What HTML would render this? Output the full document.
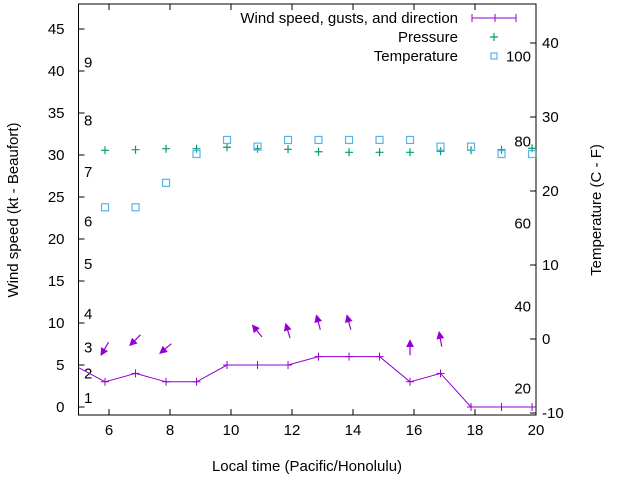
<!DOCTYPE html>
<html><head><meta charset="utf-8"><style>
body{margin:0;background:#fff;}
svg{display:block;font-family:"Liberation Sans",sans-serif;font-size:15px;}
</style></head><body>
<svg id="chart" width="640" height="480" xmlns="http://www.w3.org/2000/svg"></svg>
<script>
const times=[5.87,6.87,7.87,8.87,9.87,10.87,11.87,12.87,13.87,14.87,15.87,16.87,17.87,18.87,19.87];
const windSpeed=[3,4,3,3,5,5,5,6,6,6,3,4,0,0,0];
const windStart=[4.9,4.7];
const windDir=[30,45,50,null,null,141,163,165,165,null,180,170,null,null,null];
const pressure=[30.56,30.63,30.75,30.75,30.92,30.75,30.68,30.39,30.32,30.32,30.32,30.44,30.56,30.63,30.8];
const temperature=[17.8,17.8,21.1,25,26.9,26,26.9,26.9,26.9,26.9,26.9,26,26,25,25];
const xTicks=[6,8,10,12,14,16,18,20];
const yTicks=[0,5,10,15,20,25,30,35,40,45];
const y2Ticks=[-10,0,10,20,30,40];
const beaufort=[[1,1.1],[2,4],[3,7.1],[4,11.1],[5,17],[6,22.1],[7,28],[8,34.1],[9,41]];
const fahrenheit=[[20,-6.7],[40,4.4],[60,15.6],[80,26.7],[100,38.2]];
</script>
<script>
const svg=document.getElementById('chart');const NS='http://www.w3.org/2000/svg';
const L=78.5,R=536,T=4,B=415;
const X=v=>L+(v-5)/15*(R-L);
const Y=v=>407-v*8.4;
const Y2=v=>339-v*7.4;
function mk(tag,a,p){const e=document.createElementNS(NS,tag);for(const k in a)e.setAttribute(k,a[k]);(p||svg).appendChild(e);return e;}
function txt(x,y,s,anchor,name,extra){const e=mk('text',Object.assign({x:x,y:y,'text-anchor':anchor||'start',fill:'#000'},extra||{}));e.textContent=s;


return e;}
const arrowG=mk('g',{});


mk('defs',{}).innerHTML='<marker id="ah" markerWidth="8" markerHeight="8" refX="6" refY="4" orient="auto" markerUnits="userSpaceOnUse"><path d="M0,0 L8,4 L0,8 z" fill="#9400d3"/></marker>';
windDir.forEach((d,i)=>{if(d===null)return;const r=d*Math.PI/180;const dx=-Math.sin(r)*7,dy=Math.cos(r)*7;const cx=X(times[i]),cy=Y(windSpeed[i]+4);
const a=mk('line',{x1:cx-dx,y1:cy-dy,x2:cx+dx,y2:cy+dy,stroke:'#9400d3','stroke-width':1.2,'marker-end':'url(#ah)'},arrowG);

});
const fr=mk('rect',{x:L,y:T,width:R-L,height:B-T,fill:'none',stroke:'#000','stroke-width':1});


xTicks.forEach(v=>{mk('line',{x1:X(v),x2:X(v),y1:B,y2:B-6,stroke:'#000'});mk('line',{x1:X(v),x2:X(v),y1:T,y2:T+6,stroke:'#000'});txt(X(v),B+20,String(v),'middle','x-tick-label');});
yTicks.forEach(v=>{mk('line',{x1:L,x2:L+6,y1:Y(v),y2:Y(v),stroke:'#000'});txt(L-14,Y(v)+5,String(v),'end','y-tick-label');});
y2Ticks.forEach(v=>{mk('line',{x1:R,x2:R-6,y1:Y2(v),y2:Y2(v),stroke:'#000'});txt(R+6,Y2(v)+5,String(v),'start','y2-tick-label');});
beaufort.forEach(b=>txt(84,Y(b[1])+5,String(b[0]),'start','beaufort-label'));
fahrenheit.forEach(f=>txt(531,Y2(f[1])+5,String(f[0]),'end','fahrenheit-label'));
txt(307,471,'Local time (Pacific/Honolulu)','middle','x-axis-title');
txt(0,0,'Wind speed (kt - Beaufort)','middle','y-axis-title',{transform:'translate(18,210) rotate(-90)'});
txt(0,0,'Temperature (C - F)','middle','y2-axis-title',{transform:'translate(601,210) rotate(-90)'});
const pts=[[5,windStart[1]]].concat(times.map((t,i)=>[t,windSpeed[i]]));
const pl=mk('polyline',{points:pts.map(p=>X(p[0])+','+Y(p[1])).join(' '),fill:'none',stroke:'#9400d3','stroke-width':1});


times.forEach((t,i)=>{const x=X(t),y=Y(windSpeed[i]);const m=mk('path',{d:`M${x-4},${y}h8M${x},${y-4}v8`,stroke:'#9400d3','stroke-width':1});

});
pressure.forEach((p,i)=>{const x=X(times[i]),y=Y(p);const m=mk('path',{d:`M${x-4},${y}h8M${x},${y-4}v8`,stroke:'#009e73','stroke-width':1.2});

});
temperature.forEach((v,i)=>{const x=X(times[i]),y=Y2(v);const m=mk('rect',{x:x-3.5,y:y-3.5,width:7,height:7,fill:'none',stroke:'#56b4e9','stroke-width':1.2});

});
txt(458,23,'Wind speed, gusts, and direction','end','legend-wind');
mk('path',{d:'M472,18h44M472,14v8M495,14v8M516,14v8',stroke:'#9400d3','stroke-width':1});
txt(458,42,'Pressure','end','legend-pressure');
mk('path',{d:'M490,37h8M494,33v8',stroke:'#009e73','stroke-width':1.2});
txt(458,61,'Temperature','end','legend-temperature');
mk('rect',{x:491,y:53,width:6,height:6,fill:'none',stroke:'#56b4e9','stroke-width':1.2});
</script>
</body></html>
